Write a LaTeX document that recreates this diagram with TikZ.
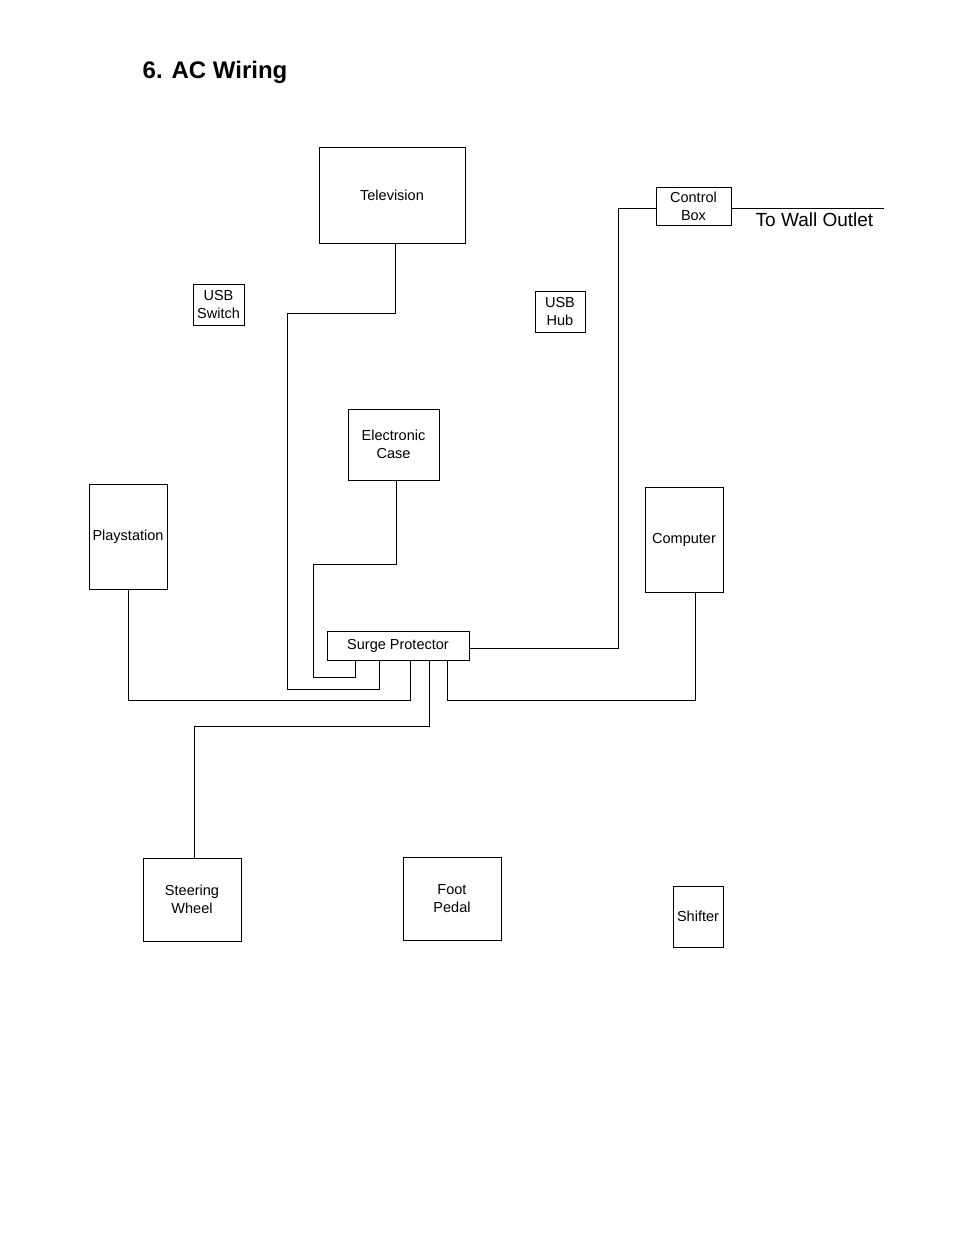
\documentclass[tikz,border=0pt]{standalone}
\usepackage{fontspec}
\setmainfont{Liberation Sans}
\begin{document}
\begin{tikzpicture}[x=1pt,y=-1pt,line width=0.7pt,
  bx/.style={draw,align=center,font=\fontsize{14.5}{18}\selectfont,inner sep=0pt}]
\useasboundingbox (0,0) rectangle (954,1235);
\newcommand\bx[6]{\node[bx,minimum width=#4-#2,minimum height=#5-#3] (#1) at ({(#2+#4)/2},{(#3+#5)/2}) {#6};}
\node[anchor=west,font=\fontsize{24}{26}\selectfont\bfseries] (title) at (139,72) {6. AC Wiring};
\bx{tv}{319}{147}{465}{243}{Television}
\bx{usbs}{193}{284}{244}{325}{USB\\Switch}
\bx{usbh}{535}{291}{585}{332}{USB\\Hub}
\bx{cb}{656}{187}{731}{225}{Control\\Box}
\bx{ec}{348}{409}{439}{480}{Electronic\\Case}
\bx{ps}{89}{484}{167}{589}{Playstation}
\bx{pc}{645}{487}{723}{592}{Computer}
\bx{sp}{327}{631}{469}{660}{Surge Protector}
\bx{sw}{143}{858}{241}{941}{Steering\\Wheel}
\bx{fp}{403}{857}{501}{940}{Foot\\Pedal}
\bx{sh}{673}{886}{723}{947}{Shifter}
\coordinate (wall) at (884,208);
\node[anchor=west,font=\fontsize{19}{21}\selectfont] (wt) at (752,220) {To Wall Outlet};
\draw ([xshift=29pt]sp.south west) -- ++(0,17) -| (313,564) -| ([xshift=2.5pt]ec.south);
\draw ([xshift=53pt]sp.south west) -- ++(0,29) -| (287,313) -| ([xshift=3pt]tv.south);
\draw ([xshift=84pt]sp.south west) -- ++(0,40) -| (ps.south);
\draw ([xshift=103pt]sp.south west) -- ++(0,66) -| ([xshift=2pt]sw.north);
\draw ([xshift=121pt]sp.south west) -- ++(0,40) -| ([xshift=11pt]pc.south);
\draw ([yshift=-3pt]sp.east) -| (618,208) -- (wall -| cb.west);
\draw (wall -| cb.east) -- (wall);
\end{tikzpicture}
\end{document}
